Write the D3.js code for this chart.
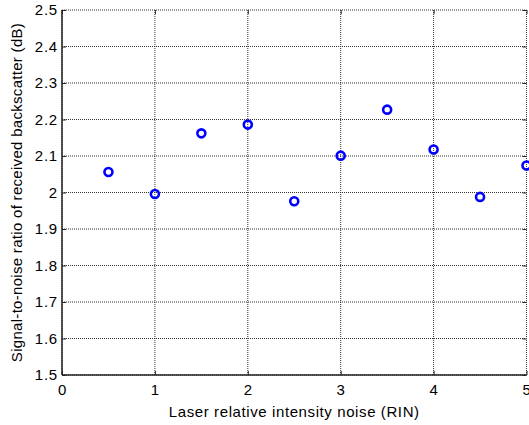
<!DOCTYPE html>
<html>
<head>
<meta charset="utf-8">
<script src="https://cdn.jsdelivr.net/npm/d3@7"></script>
<style>
  body { margin: 0; background: #fff; }
  svg { display: block; font-family: "Liberation Sans", Arial, sans-serif; }
  .grid line { stroke: #333; stroke-width: 1; stroke-dasharray: 1,1; }
</style>
</head>
<body>
<div id="chart"></div>
<script>
// RIN values (x) and measured SNR (dB)
var rin = [0.5, 1, 1.5, 2, 2.5, 3, 3.5, 4, 4.5, 5];
var snr = [2.056, 1.996, 2.162, 2.186, 1.976, 2.101, 2.227, 2.118, 1.988, 2.074];
var xTicks = [0, 1, 2, 3, 4, 5];
var yTicks = [1.5, 1.6, 1.7, 1.8, 1.9, 2, 2.1, 2.2, 2.3, 2.4, 2.5];

var W = 529, H = 425;
var m = {t: 10, r: 2.5, b: 50, l: 62};
var w = W - m.l - m.r, h = H - m.t - m.b;

var svg = d3.select('#chart').append('svg')
    .attr('width', W).attr('height', H);
var g = svg.append('g').attr('transform', 'translate(' + m.l + ',' + m.t + ')');

var x = d3.scaleLinear().domain([0, 5]).range([0, w]);
var y = d3.scaleLinear().domain([1.5, 2.5]).range([h, 0]);

//Grid
var grid = g.append('g').attr('class', 'grid');
grid.selectAll('.gx').data(xTicks).enter().append('line')
    .attr('x1', function(d){return x(d);}).attr('x2', function(d){return x(d);})
    .attr('y1', 0).attr('y2', h);
grid.selectAll('.gy').data(yTicks).enter().append('line')
    .attr('x1', 0).attr('x2', w)
    .attr('y1', function(d){return y(d);}).attr('y2', function(d){return y(d);});

//Axes (matlab style: ticks inside)
function styleAxis(sel){
  sel.select('.domain').remove();
  sel.selectAll('.tick line').style('stroke', '#262626').style('stroke-width', 1);
  sel.selectAll('.tick text').style('font-size', '15px').style('fill', '#000')
      .style('letter-spacing', '0.8px')
      .style('font-family', '"Liberation Sans", Arial, sans-serif');
}
var fmt = function(d){return d3.format('')(d);};
var axB = g.append('g').attr('transform', 'translate(0,' + h + ')')
    .call(d3.axisBottom(x).tickValues(xTicks).tickFormat(fmt).tickSizeInner(-4).tickSizeOuter(0).tickPadding(9));
styleAxis(axB);
var axL = g.append('g')
    .call(d3.axisLeft(y).tickValues(yTicks).tickFormat(fmt).tickSizeInner(-4).tickSizeOuter(0).tickPadding(4));
styleAxis(axL);
var axT = g.append('g')
    .call(d3.axisTop(x).tickValues(xTicks).tickFormat('').tickSizeInner(-4).tickSizeOuter(0));
styleAxis(axT);
var axR = g.append('g').attr('transform', 'translate(' + w + ',0)')
    .call(d3.axisRight(y).tickValues(yTicks).tickFormat('').tickSizeInner(-4).tickSizeOuter(0));
styleAxis(axR);

//Box left & bottom
g.append('line').attr('x1', 0).attr('x2', 0).attr('y1', 0).attr('y2', h)
    .style('stroke', '#262626').style('stroke-width', 1.5);
g.append('line').attr('x1', 0).attr('x2', w).attr('y1', h).attr('y2', h)
    .style('stroke', '#262626').style('stroke-width', 1.5);

//Points
g.selectAll('.pt').data(rin).enter().append('circle')
    .attr('class', 'pt')
    .attr('cx', function(d){return x(d);})
    .attr('cy', function(d, i){return y(snr[i]);})
    .attr('r', 4)
    .style('fill', 'none').style('stroke', '#0000ff').style('stroke-width', 2.6);

//Labels
svg.append('text').attr('x', m.l + w / 2).attr('y', 417)
    .attr('text-anchor', 'middle').style('font-size', '15px').style('letter-spacing', '0.6px')
    .text('Laser relative intensity noise (RIN)');
svg.append('text').attr('transform', 'translate(22,' + (m.t + h / 2) + ') rotate(-90)')
    .attr('text-anchor', 'middle').style('font-size', '15px').style('letter-spacing', '0.3px')
    .text('Signal-to-noise ratio of received backscatter (dB)');
</script>
</body>
</html>
